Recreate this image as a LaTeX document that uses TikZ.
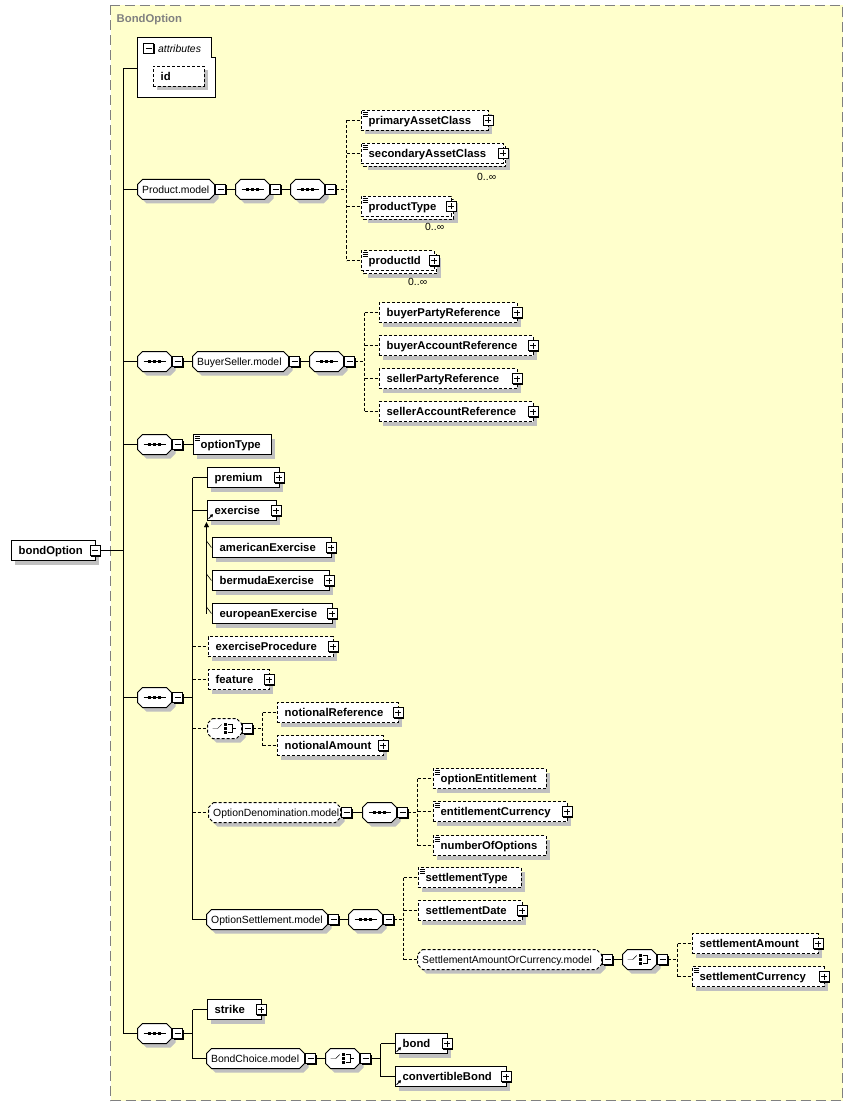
\documentclass[tikz,border=0pt]{standalone}
\usepackage{fontspec}
\setmainfont{Liberation Sans}
\usetikzlibrary{shadows,calc,arrows.meta}
\definecolor{bgy}{HTML}{FFFFCC}
\definecolor{shgray}{HTML}{C0C0C0}
\definecolor{bordgray}{HTML}{808080}
\newcommand\elfont{\fontsize{11.3}{13}\selectfont\bfseries}
\newcommand\mdfont{\fontsize{10.4}{12}\selectfont}
\pgfdeclarelayer{bg}\pgfdeclarelayer{conn}\pgfsetlayers{bg,conn,main}
\tikzset{
 sh/.style={drop shadow={shadow xshift=4pt,shadow yshift=-4pt,fill=shgray,opacity=1}},
 dsh/.style={dash pattern=on 3pt off 2pt},
 elbox/.style={draw,fill=white,inner sep=0pt,minimum height=20pt,anchor=west,font=\elfont,text height=8pt,text depth=0pt},
 octt/.style={anchor=west,inner sep=0pt,minimum height=20pt,font=\mdfont,text height=8pt,text depth=0pt},
 pmbox/.style={draw,fill=white,minimum size=10pt,inner sep=0pt,drop shadow={shadow xshift=1pt,shadow yshift=-1pt,fill=black,opacity=1}},
 occ/.style={anchor=base west,font=\mdfont,inner sep=0pt},
}
\newcommand\El[6][]{\node[elbox,sh,#1] (#2) at (#3,#4) {\makebox[#5pt][l]{\hspace*{8pt}#6}};}
\newcommand\ElM[6][]{%
  \fill[shgray] (#3+7,#4-3) rectangle (#3+#5+7,#4+17);
  \draw[fill=white,#1] (#3+3,#4-7) rectangle (#3+#5+3,#4+13);
  \node[elbox,#1] (#2) at (#3,#4) {\makebox[#5pt][l]{\hspace*{8pt}#6}};}
\newcommand\Oct[6][]{%
  \fill[shgray] (#3+9,#4-6) -- (#3+#5-1,#4-6) -- (#3+#5+4,#4-1) -- (#3+#5+4,#4+9) -- (#3+#5-1,#4+14) -- (#3+9,#4+14) -- (#3+4,#4+9) -- (#3+4,#4-1) -- cycle;
  \draw[draw=black,fill=white,line width=1pt,#1] (#3+5,#4-10) -- (#3+#5-5,#4-10) -- (#3+#5,#4-5) -- (#3+#5,#4+5) -- (#3+#5-5,#4+10) -- (#3+5,#4+10) -- (#3,#4+5) -- (#3,#4-5) -- cycle;
  \node[octt] (#2) at (#3,#4) {\makebox[#5pt][l]{\hspace*{4.5pt}#6}};}
\newcommand\Mn[2]{\node[pmbox] (#1) at (#2) {}; \draw ([xshift=-3pt]#1.center) -- ([xshift=3pt]#1.center);}
\newcommand\Pl[2]{\node[pmbox] (#1) at (#2) {}; \draw ([xshift=-3pt]#1.center) -- ([xshift=3pt]#1.center) ([yshift=-3pt]#1.center) -- ([yshift=3pt]#1.center);}
\newcommand\Ic[1]{\foreach \k in {2,4,6}{\draw[line width=.8pt] ($(#1.north west)+(2,\k)$) -- ++(5,0);}}
\newcommand\Rf[1]{\draw[line width=1pt,-{Triangle[length=2.8pt,width=3.4pt]}] ($(#1.south west)+(2,-2)$) -- ++(4.5,-4.5);}
\newcommand\SeqSym[1]{\draw ($(#1.center)+(-11,0)$) -- ($(#1.center)+(11,0)$);
  \foreach \d in {-5,0,5} \fill ($(#1.center)+(\d,0)$) +(-1.5,-1.5) rectangle +(1.5,1.5);}
\newcommand\ChoSym[1]{%
  \draw ($(#1.center)+(-12,0)$) -- ($(#1.center)+(-7,0)$) -- ($(#1.center)+(-3,-4)$);
  \foreach \d in {-4,0,4} \fill ($(#1.center)+(0.5,\d)$) +(-1.5,-1.5) rectangle +(1.5,1.5);
  \draw ($(#1.center)+(3,-4)$) -- ($(#1.center)+(7,-4)$) -- ($(#1.center)+(7,4)$) -- ($(#1.center)+(3,4)$);
  \draw ($(#1.center)+(7,0)$) -- ($(#1.center)+(11,0)$);}
\begin{document}
\begin{tikzpicture}[x=1pt,y=-1pt,line width=1pt]
\useasboundingbox (0,0) rectangle (853,1107);
\begin{pgfonlayer}{bg}
\fill[white] (0,0) rectangle (853,1107);
\draw[bordgray,fill=bgy,dash pattern=on 10pt off 5pt] (110.5,5.5) rectangle (842.5,1100.5);
\end{pgfonlayer}
\node[anchor=base west,font=\elfont,text=bordgray,inner sep=0pt] (title) at (116.5,23) {BondOption};
% vertical line positions
\coordinate (V0) at (123.5,0);
\coordinate (V1) at (346.5,0);
\coordinate (V2) at (364.5,0);
\coordinate (V3) at (192.5,0);
\coordinate (V4) at (262.5,0);
\coordinate (V5) at (417.5,0);
\coordinate (V6) at (403.5,0);
\coordinate (V7) at (677.5,0);
\coordinate (V8) at (192.5,0);
\coordinate (V9) at (380.5,0);
% root
\El{bo}{10.5}{550.5}{84}{bondOption}
\Mn{boM}{bo.east}
% attributes
\path[draw,fill=white] (137.5,37.5) -- (211.5,37.5) -- (211.5,57.5) -- (215.5,57.5) -- (215.5,97.5) -- (137.5,97.5) -- cycle;
\coordinate (attr) at (137.5,68.5);
\Mn{attrM}{148.5,48.5}
\node[anchor=base west,font=\mdfont\itshape,inner sep=0pt] (attrT) at (158,52.5) {attributes};
\El[dsh]{id}{152.5}{76.5}{51}{id}
% Product.model
\Oct{pm}{137.5}{189.5}{77}{Product.model}
\Mn{pmM}{220.5,189.5}
\Oct{sqa}{235.5}{189.5}{34}{}\SeqSym{sqa}
\Mn{sqaM}{275.5,189.5}
\Oct{sqb}{290.5}{189.5}{34}{}\SeqSym{sqb}
\Mn{sqbM}{330.5,189.5}
\El[dsh]{pac}{360.5}{120.5}{127}{primaryAssetClass}\Ic{pac}\Pl{pacP}{pac.east}
\ElM[dsh]{sac}{360.5}{153.5}{142}{secondaryAssetClass}\Ic{sac}\Pl{sacP}{sac.east}
\ElM[dsh]{pty}{360.5}{206.5}{90}{productType}\Ic{pty}\Pl{ptyP}{pty.east}
\ElM[dsh]{pid}{360.5}{260.5}{73}{productId}\Ic{pid}\Pl{pidP}{pid.east}
\node[occ] (occ1) at (477,180.5) {0..∞};
\node[occ] (occ2) at (425,231) {0..∞};
\node[occ] (occ3) at (408,285) {0..∞};
% BuyerSeller
\Oct{sq1}{137.5}{361.5}{34}{}\SeqSym{sq1}
\Mn{sq1M}{177.5,361.5}
\Oct{bs}{192.5}{361.5}{96}{BuyerSeller.model}
\Mn{bsM}{294.5,361.5}
\Oct{sq2}{309.5}{361.5}{34}{}\SeqSym{sq2}
\Mn{sq2M}{349.5,361.5}
\El[dsh]{bpr}{378.5}{312.5}{138}{buyerPartyReference}\Pl{bprP}{bpr.east}
\El[dsh]{bar}{378.5}{345.5}{154}{buyerAccountReference}\Pl{barP}{bar.east}
\El[dsh]{spr}{378.5}{378.5}{138}{sellerPartyReference}\Pl{sprP}{spr.east}
\El[dsh]{sar}{378.5}{411.5}{154}{sellerAccountReference}\Pl{sarP}{sar.east}
% optionType
\Oct{sq3}{137.5}{444.5}{34}{}\SeqSym{sq3}
\Mn{sq3M}{177.5,444.5}
\El{ot}{192.5}{444.5}{78}{optionType}\Ic{ot}
% main sequence
\Oct{sq4}{137.5}{697.5}{34}{}\SeqSym{sq4}
\Mn{sq4M}{177.5,697.5}
\El{prem}{206.5}{477.5}{72}{premium}\Pl{premP}{prem.east}
\El{exer}{206.5}{510.5}{69}{exercise}\Rf{exer}\Pl{exerP}{exer.east}
\El{amer}{211.5}{547.5}{119}{americanExercise}\Pl{amerP}{amer.east}
\El{berm}{211.5}{580.5}{117}{bermudaExercise}\Pl{bermP}{berm.east}
\El{euro}{211.5}{613.5}{120}{europeanExercise}\Pl{euroP}{euro.east}
\El[dsh]{exp}{207.5}{646.5}{125}{exerciseProcedure}\Pl{expP}{exp.east}
\El[dsh]{feat}{207.5}{679.5}{61}{feature}\Pl{featP}{feat.east}
\Oct[dsh]{ch1}{207.5}{728.5}{34}{}\ChoSym{ch1}
\Mn{ch1M}{247.5,728.5}
\El[dsh]{nref}{276.5}{712.5}{121}{notionalReference}\Pl{nrefP}{nref.east}
\El[dsh]{namt}{276.5}{745.5}{106}{notionalAmount}\Pl{namtP}{namt.east}
\Oct[dsh]{od}{208.5}{812.5}{132}{OptionDenomination.model}
\Mn{odM}{346.5,812.5}
\Oct{sq5}{362.5}{812.5}{34}{}\SeqSym{sq5}
\Mn{sq5M}{402.5,812.5}
\El[dsh]{oe}{432.5}{778.5}{113}{optionEntitlement}\Ic{oe}
\El[dsh]{ec}{432.5}{811.5}{134}{entitlementCurrency}\Ic{ec}\Pl{ecP}{ec.east}
\El[dsh]{noo}{432.5}{845.5}{113}{numberOfOptions}\Ic{noo}
\Oct{os}{206.5}{919.5}{121}{OptionSettlement.model}
\Mn{osM}{333.5,919.5}
\Oct{sq6}{348.5}{919.5}{34}{}\SeqSym{sq6}
\Mn{sq6M}{388.5,919.5}
\El[dsh]{st}{417.5}{877.5}{103}{settlementType}\Ic{st}
\El[dsh]{sd}{417.5}{910.5}{104}{settlementDate}\Pl{sdP}{sd.east}
\Oct[dsh]{saoc}{417.5}{959.5}{184}{SettlementAmountOrCurrency.model}
\Mn{saocM}{607.5,959.5}
\Oct{ch2}{622.5}{959.5}{34}{}\ChoSym{ch2}
\Mn{ch2M}{662.5,959.5}
\El[dsh]{sa}{691.5}{943.5}{126}{settlementAmount}\Pl{saP}{sa.east}
\El[dsh]{sc}{691.5}{976.5}{132}{settlementCurrency}\Ic{sc}\Pl{scP}{sc.east}
% last sequence
\Oct{sq7}{137.5}{1033.5}{34}{}\SeqSym{sq7}
\Mn{sq7M}{177.5,1033.5}
\El{strk}{206.5}{1009.5}{54}{strike}\Pl{strkP}{strk.east}
\Oct{bc}{206.5}{1058.5}{98}{BondChoice.model}
\Mn{bcM}{310.5,1058.5}
\Oct{ch3}{325.5}{1058.5}{34}{}\ChoSym{ch3}
\Mn{ch3M}{365.5,1058.5}
\El{bond}{394.5}{1043.5}{52}{bond}\Rf{bond}\Pl{bondP}{bond.east}
\El{cb}{394.5}{1076.5}{111}{convertibleBond}\Rf{cb}\Pl{cbP}{cb.east}
% connectors
\begin{pgfonlayer}{conn}
\draw (boM.east) -- (boM.east -| V0);
\draw (attr -| V0) -- (sq7.west -| V0);
\draw (attr -| V0) -- (attr);
\foreach \n in {pm,sq1,sq3,sq4,sq7} \draw (\n.west -| V0) -- (\n.west);
% product
\draw (pmM.east) -- (sqa.west);
\draw (sqaM.east) -- (sqb.west);
\draw[dsh] (sqbM.east) -- (sqbM.east -| V1);
\draw[dsh] (pac.west -| V1) -- (pid.west -| V1);
\foreach \n in {pac,sac,pty,pid} \draw[dsh] (\n.west -| V1) -- (\n.west);
% buyer seller
\draw (sq1M.east) -- (bs.west);
\draw (bsM.east) -- (sq2.west);
\draw[dsh] (sq2M.east) -- (sq2M.east -| V2);
\draw[dsh] (bpr.west -| V2) -- (sar.west -| V2);
\foreach \n in {bpr,bar,spr,sar} \draw[dsh] (\n.west -| V2) -- (\n.west);
% option type
\draw (sq3M.east) -- (ot.west);
% main sequence
\draw (sq4M.east) -- (sq4M.east -| V3);
\draw (prem.west -| V3) -- (os.west -| V3);
\foreach \n in {prem,exer,os} \draw (\n.west -| V3) -- (\n.west);
\foreach \n in {exp,feat,ch1,od} \draw[dsh] (\n.west -| V3) -- (\n.west);
\draw[-{Triangle[length=5pt,width=5pt]}] ($(euro.west)+(-5,0)$) -- ($(exer.south west)+(0,1.5)$);
\foreach \n in {amer,berm,euro} \draw[line width=.6pt] ($(\n.west)+(-5,-6.5)$) -- (\n.west);
\draw[dsh] (ch1M.east) -- (ch1M.east -| V4);
\draw[dsh] (nref.west -| V4) -- (namt.west -| V4);
\foreach \n in {nref,namt} \draw[dsh] (\n.west -| V4) -- (\n.west);
\draw (odM.east) -- (sq5.west);
\draw[dsh] (sq5M.east) -- (sq5M.east -| V5);
\draw[dsh] (oe.west -| V5) -- (noo.west -| V5);
\foreach \n in {oe,ec,noo} \draw[dsh] (\n.west -| V5) -- (\n.west);
\draw (osM.east) -- (sq6.west);
\draw[dsh] (sq6M.east) -- (sq6M.east -| V6);
\draw[dsh] (st.west -| V6) -- (saoc.west -| V6);
\foreach \n in {st,sd,saoc} \draw[dsh] (\n.west -| V6) -- (\n.west);
\draw (saocM.east) -- (ch2.west);
\draw[dsh] (ch2M.east) -- (ch2M.east -| V7);
\draw[dsh] (sa.west -| V7) -- (sc.west -| V7);
\foreach \n in {sa,sc} \draw[dsh] (\n.west -| V7) -- (\n.west);
% last
\draw (sq7M.east) -- (sq7M.east -| V8);
\draw (strk.west -| V8) -- (bc.west -| V8);
\foreach \n in {strk,bc} \draw (\n.west -| V8) -- (\n.west);
\draw (bcM.east) -- (ch3.west);
\draw (ch3M.east) -- (ch3M.east -| V9);
\draw (bond.west -| V9) -- (cb.west -| V9);
\foreach \n in {bond,cb} \draw (\n.west -| V9) -- (\n.west);
\end{pgfonlayer}
\end{tikzpicture}
\end{document}
